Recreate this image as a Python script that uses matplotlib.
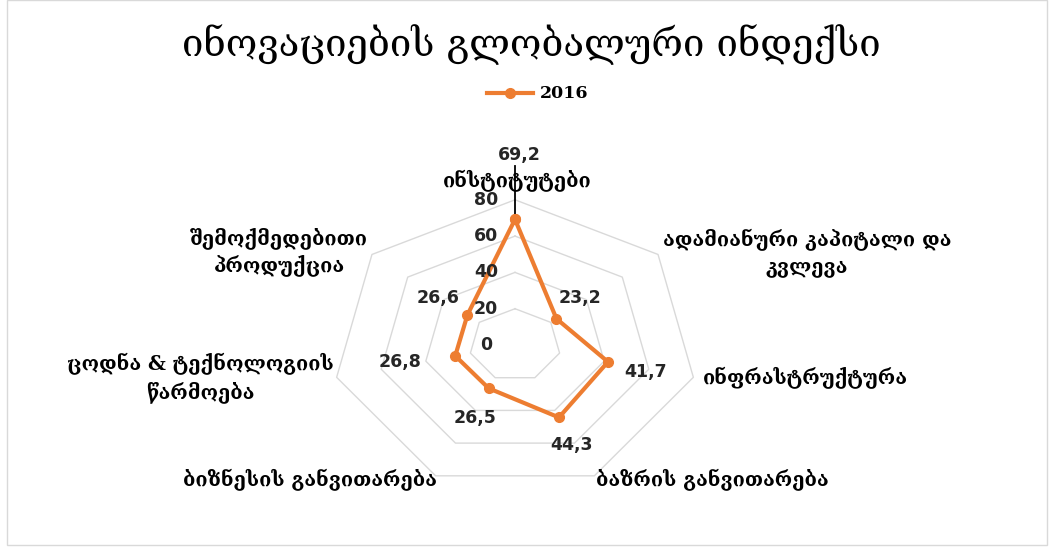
import numpy as np
import matplotlib.pyplot as plt
from matplotlib.patches import Rectangle

# index pillars, clockwise from the top
categories = ['ინსტიტუტები',
              'ადამიანური კაპიტალი და\nკვლევა',
              'ინფრასტრუქტურა',
              'ბაზრის განვითარება',
              'ბიზნესის განვითარება',
              'ცოდნა & ტექნოლოგიის\nწარმოება',
              'შემოქმედებითი\nპროდუქცია']
values_2016 = [69.2, 23.2, 41.7, 44.3, 26.5, 26.8, 26.6]
rings = [20, 40, 60, 80]
tick_labels = ['0', '20', '40', '60', '80']

W, H = 1053, 552
cx, cy = 515, 345          # centre of the web, pixels
sy = 1.815                 # pixels per unit vertically
sx = sy * 1.26             # chart is drawn wider than tall

orange = '#ED7D31'
grid = '#D9D9D9'

fig = plt.figure(figsize=(W / 100, H / 100), dpi=100)
ax = fig.add_axes([0, 0, 1, 1])
ax.set_xlim(-cx / sx, (W - cx) / sx)
ax.set_ylim(-(H - cy) / sy, cy / sy)
ax.axis('off')

def fp(px, py):
    return px / W, 1 - py / H

n = len(categories)
ang = np.arange(n) * 2 * np.pi / n

# web rings
for r in rings:
    a = np.append(ang, ang[0])
    ax.plot(r * np.sin(a), r * np.cos(a), color=grid, lw=1.0, zorder=1)

# radial tick labels
for i, t in enumerate(tick_labels):
    ax.text(-29 / sx, i * 20, t, ha='center', va='center', fontsize=12.5,
            fontweight='bold', color='#262626', zorder=4)

# series
v = np.array(values_2016)
xs, ys = v * np.sin(ang), v * np.cos(ang)
ax.plot(np.append(xs, xs[0]), np.append(ys, ys[0]), color=orange, lw=3.0,
        marker='o', ms=7, solid_joinstyle='round', zorder=3)

# leader line from the top point
ax.plot([xs[0], xs[0]], [ys[0], ys[0] + 53 / sy], color='black', lw=1.3, zorder=2)

# value labels
offsets = [(4, 64), (24, 21), (38, -10), (13, -28), (-14, -30), (-55, -6), (-29, 17)]
for x, y, val, off in zip(xs, ys, values_2016, offsets):
    ax.annotate(f'{val:.1f}'.replace('.', ','), (x, y), xytext=off,
                textcoords='offset pixels', ha='center', va='center',
                fontsize=12.5, fontweight='bold', color='#262626', zorder=4)

# category labels
cat_pos = [(517, 181), (807, 253), (805, 378), (712, 480),
           (310, 480), (200, 378), (279, 252)]
for lab, (px, py) in zip(categories, cat_pos):
    fig.text(*fp(px, py), lab, ha='center', va='center', fontsize=14.3,
             family='DejaVu Serif', fontweight='bold', linespacing=1.35,
             color='black')

# title and legend
fig.text(*fp(531, 45), 'ინოვაციების გლობალური ინდექსი', ha='center',
         va='center', fontsize=27.5, family='DejaVu Serif', color='black')
ax.plot([(487 - cx) / sx, (533 - cx) / sx], [(cy - 93) / sy] * 2, color=orange,
        lw=3.0, zorder=3)
ax.plot([(510 - cx) / sx], [(cy - 93) / sy], 'o', color=orange, ms=7, zorder=3)
fig.text(*fp(540, 93), '2016', ha='left', va='center', fontsize=12.5,
         family='DejaVu Serif', fontweight='bold', color='black')

# chart frame
fig.patches.append(Rectangle((7 / W, 1 - 545 / H), 1040 / W, 545 / H - 0.0,
                             transform=fig.transFigure, fill=False,
                             edgecolor=grid, lw=1.0))

fig.savefig('out.png', dpi=100, facecolor='white')
